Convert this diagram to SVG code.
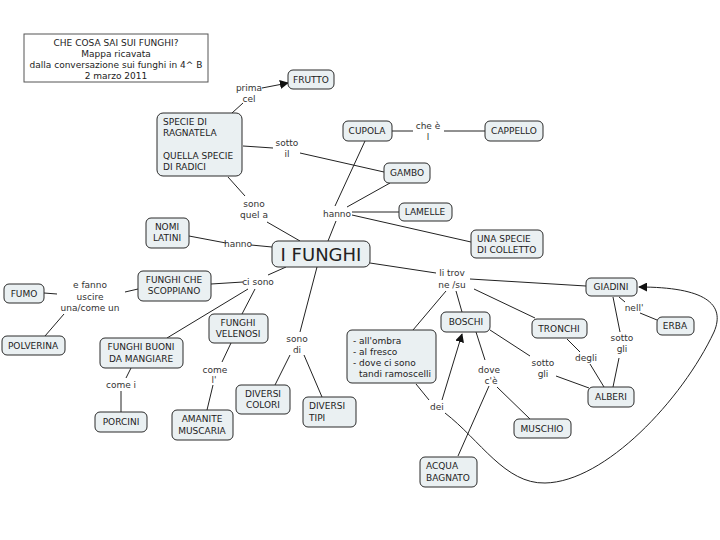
<svg xmlns="http://www.w3.org/2000/svg" width="720" height="540" viewBox="0 0 720 540">
<style>
.n rect{fill:#eaf0f2;stroke:#2a2a2a;stroke-width:1}
text{font-family:"DejaVu Sans","Liberation Sans",sans-serif;font-size:9px;fill:#222}
.c{text-anchor:middle}
.l{font-size:9px;text-anchor:middle;fill:#333}
.t{font-size:9px;text-anchor:middle}
#conn path,#conn line{stroke:#222;stroke-width:1;fill:none}
</style>
<defs>
<marker id="ah" viewBox="0 0 10 10" refX="9" refY="5" markerWidth="9" markerHeight="9" orient="auto" markerUnits="userSpaceOnUse">
<path d="M0,0 L10,5 L0,10 z" fill="#111"/>
</marker>
</defs>
<rect width="720" height="540" fill="#fff"/>

<g id="title">
<rect x="24" y="34" width="184" height="48" fill="#fff" stroke="#555" stroke-width="1"/>
<text class="t" x="116" y="46">CHE COSA SAI SUI FUNGHI?</text>
<text class="t" x="116" y="57">Mappa ricavata</text>
<text class="t" x="116" y="68">dalla conversazione sui funghi in 4^ B</text>
<text class="t" x="116" y="79">2 marzo 2011</text>
</g>

<g id="conn">
<line x1="232" y1="113" x2="243" y2="103"/>
<line x1="262" y1="88" x2="288" y2="83" marker-end="url(#ah)"/>
<line x1="243" y1="146" x2="273" y2="148"/>
<line x1="300" y1="153" x2="384" y2="172"/>
<line x1="392" y1="131" x2="413" y2="131"/>
<line x1="444" y1="131" x2="485" y2="131"/>
<line x1="228" y1="177" x2="245" y2="196"/>
<line x1="267" y1="222" x2="300" y2="241"/>
<line x1="328" y1="241" x2="336" y2="221"/>
<line x1="335" y1="206" x2="365" y2="141"/>
<line x1="347" y1="207" x2="390" y2="183"/>
<line x1="352" y1="212" x2="399" y2="212"/>
<line x1="352" y1="215" x2="471" y2="242"/>
<line x1="189" y1="236" x2="226" y2="243"/>
<line x1="251" y1="245" x2="272" y2="247"/>
<line x1="286" y1="267" x2="268" y2="275"/>
<line x1="211" y1="284" x2="243" y2="282"/>
<line x1="248" y1="289" x2="167" y2="338"/>
<line x1="255" y1="289" x2="242" y2="314"/>
<line x1="138" y1="289" x2="125" y2="292"/>
<line x1="44" y1="293" x2="57" y2="294"/>
<line x1="64" y1="314" x2="45" y2="336"/>
<line x1="131" y1="368" x2="126" y2="378"/>
<line x1="121" y1="391" x2="121" y2="412"/>
<line x1="231" y1="343" x2="222" y2="362"/>
<line x1="213" y1="385" x2="207" y2="410"/>
<line x1="317" y1="267" x2="300" y2="332"/>
<line x1="290" y1="355" x2="275" y2="385"/>
<line x1="304" y1="355" x2="322" y2="397"/>
<line x1="370" y1="263" x2="436" y2="273"/>
<line x1="470" y1="279" x2="586" y2="286"/>
<line x1="446" y1="291" x2="413" y2="330"/>
<line x1="456" y1="291" x2="462" y2="312"/>
<line x1="474" y1="289" x2="535" y2="318"/>
<line x1="619" y1="297" x2="625" y2="302"/>
<line x1="640" y1="313" x2="657" y2="320"/>
<line x1="613" y1="297" x2="620" y2="332"/>
<line x1="619" y1="358" x2="613" y2="387"/>
<line x1="567" y1="339" x2="580" y2="352"/>
<line x1="590" y1="364" x2="604" y2="387"/>
<line x1="490" y1="330" x2="530" y2="356"/>
<line x1="556" y1="376" x2="589" y2="388"/>
<line x1="476" y1="332" x2="485" y2="360"/>
<line x1="497" y1="387" x2="530" y2="419"/>
<line x1="489" y1="386" x2="458" y2="456"/>
<line x1="416" y1="384" x2="429" y2="400"/>
<line x1="442" y1="400" x2="462" y2="334" marker-end="url(#ah)"/>
<path d="M445,413 C480,440 505,484 545,483 C605,482 682,400 714,332 C726,304 705,287 639,287" marker-end="url(#ah)"/>
</g>

<g id="labels">
<text class="l" x="249" y="91">prima</text>
<text class="l" x="249" y="102">cel</text>
<text class="l" x="287" y="146">sotto</text>
<text class="l" x="287" y="157">il</text>
<text class="l" x="428" y="129">che è</text>
<text class="l" x="428" y="140">l</text>
<text class="l" x="254" y="207">sono</text>
<text class="l" x="254" y="218">quel a</text>
<text class="l" x="337" y="217">hanno</text>
<text class="l" x="238" y="247">hanno</text>
<text class="l" x="258" y="285">ci sono</text>
<text class="l" x="90" y="288">e fanno</text>
<text class="l" x="90" y="300">uscire</text>
<text class="l" x="90" y="311">una/come un</text>
<text class="l" x="121" y="388">come i</text>
<text class="l" x="215" y="373">come</text>
<text class="l" x="214" y="383">l'</text>
<text class="l" x="297" y="342">sono</text>
<text class="l" x="297" y="353">di</text>
<text class="l" x="452" y="276">li trov</text>
<text class="l" x="452" y="288">ne /su</text>
<text class="l" x="634" y="311">nell'</text>
<text class="l" x="622" y="341">sotto</text>
<text class="l" x="622" y="352">gli</text>
<text class="l" x="586" y="361">degli</text>
<text class="l" x="543" y="366">sotto</text>
<text class="l" x="543" y="377">gli</text>
<text class="l" x="489" y="373">dove</text>
<text class="l" x="491" y="384">c'è</text>
<text class="l" x="437" y="410">dei</text>
</g>

<g id="frutto" class="n"><rect x="288" y="70" width="46" height="19" rx="5"/><text class="c" x="311" y="83">FRUTTO</text></g>
<g id="specie" class="n"><rect x="157" y="113" width="85" height="63" rx="6"/>
<text x="163" y="125">SPECIE DI</text><text x="163" y="136">RAGNATELA</text>
<text x="163" y="159">QUELLA SPECIE</text><text x="163" y="170">DI RADICI</text></g>
<g id="cupola" class="n"><rect x="343" y="121" width="49" height="20" rx="5"/><text class="c" x="367" y="134">CUPOLA</text></g>
<g id="cappello" class="n"><rect x="485" y="121" width="58" height="20" rx="5"/><text class="c" x="514" y="134">CAPPELLO</text></g>
<g id="gambo" class="n"><rect x="384" y="163" width="46" height="20" rx="5"/><text class="c" x="407" y="176">GAMBO</text></g>
<g id="lamelle" class="n"><rect x="399" y="203" width="53" height="18" rx="5"/><text class="c" x="425" y="215">LAMELLE</text></g>
<g id="colletto" class="n"><rect x="471" y="230" width="72" height="28" rx="5"/>
<text x="477" y="242">UNA SPECIE</text><text x="477" y="253">DI COLLETTO</text></g>
<g id="nomi" class="n"><rect x="146" y="218" width="43" height="30" rx="5"/>
<text class="c" x="167" y="230">NOMI</text><text class="c" x="167" y="241">LATINI</text></g>
<g id="funghi" class="n"><rect x="272" y="241" width="98" height="26" rx="6"/>
<text class="c" x="321" y="261" style="font-size:18px">I FUNGHI</text></g>
<g id="scoppiano" class="n"><rect x="138" y="271" width="73" height="30" rx="5"/>
<text class="c" x="174" y="283">FUNGHI CHE</text><text class="c" x="174" y="294">SCOPPIANO</text></g>
<g id="fumo" class="n"><rect x="4" y="284" width="40" height="19" rx="5"/><text class="c" x="24" y="297">FUMO</text></g>
<g id="polverina" class="n"><rect x="2" y="336" width="63" height="19" rx="5"/><text class="c" x="33" y="349">POLVERINA</text></g>
<g id="velenosi" class="n"><rect x="209" y="314" width="59" height="29" rx="5"/>
<text class="c" x="238" y="326">FUNGHI</text><text class="c" x="238" y="337">VELENOSI</text></g>
<g id="buoni" class="n"><rect x="100" y="338" width="83" height="30" rx="5"/>
<text class="c" x="141" y="350">FUNGHI BUONI</text><text class="c" x="141" y="362">DA MANGIARE</text></g>
<g id="porcini" class="n"><rect x="95" y="412" width="52" height="20" rx="5"/><text class="c" x="121" y="425">PORCINI</text></g>
<g id="amanite" class="n"><rect x="172" y="410" width="61" height="30" rx="5"/>
<text class="c" x="202" y="422">AMANITE</text><text class="c" x="202" y="434">MUSCARIA</text></g>
<g id="colori" class="n"><rect x="236" y="385" width="54" height="29" rx="5"/>
<text class="c" x="263" y="397">DIVERSI</text><text class="c" x="263" y="408">COLORI</text></g>
<g id="tipi" class="n"><rect x="303" y="397" width="53" height="30" rx="5"/>
<text x="309" y="409">DIVERSI</text><text x="309" y="421">TIPI</text></g>
<g id="ombra" class="n"><rect x="347" y="330" width="89" height="53" rx="5"/>
<text x="353" y="344">- all'ombra</text><text x="353" y="355">- al fresco</text>
<text x="353" y="366">- dove ci sono</text><text x="359" y="377">tandi ramoscelli</text></g>
<g id="boschi" class="n"><rect x="441" y="312" width="49" height="20" rx="5"/><text class="c" x="466" y="325">BOSCHI</text></g>
<g id="tronchi" class="n"><rect x="532" y="319" width="55" height="19" rx="5"/><text class="c" x="559" y="332">TRONCHI</text></g>
<g id="giadini" class="n"><rect x="586" y="278" width="51" height="18" rx="5"/><text class="c" x="611" y="290">GIADINI</text></g>
<g id="erba" class="n"><rect x="657" y="317" width="37" height="18" rx="5"/><text class="c" x="675" y="329">ERBA</text></g>
<g id="alberi" class="n"><rect x="588" y="387" width="46" height="20" rx="5"/><text class="c" x="611" y="400">ALBERI</text></g>
<g id="muschio" class="n"><rect x="514" y="419" width="57" height="19" rx="5"/><text class="c" x="542" y="432">MUSCHIO</text></g>
<g id="acqua" class="n"><rect x="420" y="457" width="57" height="30" rx="5"/>
<text x="426" y="469">ACQUA</text><text x="426" y="481">BAGNATO</text></g>
</svg>
